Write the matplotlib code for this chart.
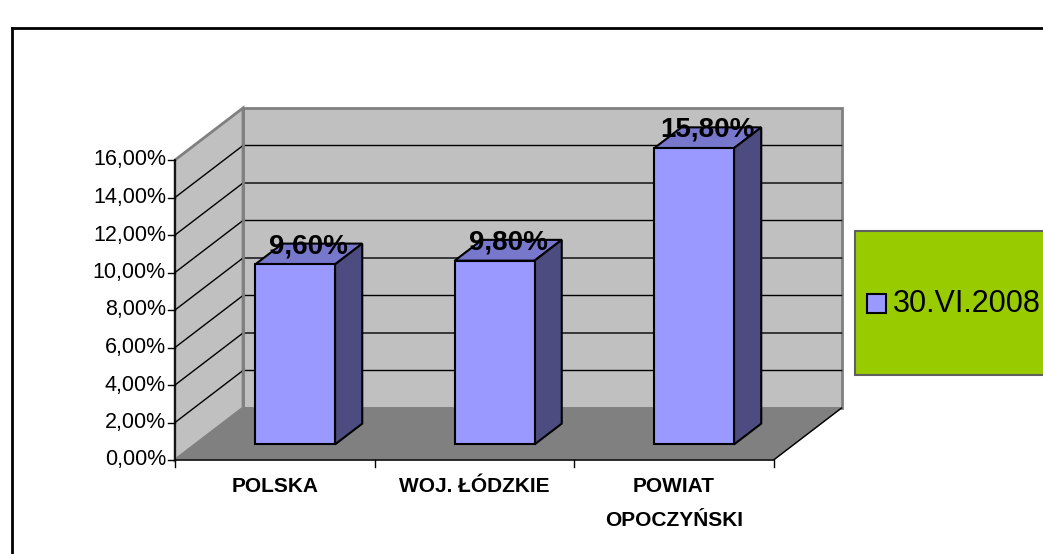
import matplotlib
matplotlib.use("Agg")
import matplotlib.pyplot as plt
from matplotlib.patches import Polygon, Rectangle

# ---------------- data ----------------
categories = ["POLSKA", "WOJ. ŁÓDZKIE", "POWIAT\nOPOCZYŃSKI"]
values = [9.6, 9.8, 15.8]
value_labels = ["9,60%", "9,80%", "15,80%"]
yticks = [0, 2, 4, 6, 8, 10, 12, 14, 16]
ytick_labels = ["0,00%", "2,00%", "4,00%", "6,00%", "8,00%",
                "10,00%", "12,00%", "14,00%", "16,00%"]
series_name = "30.VI.2008"

# ---------------- geometry (pixel mapping) ----------------
W, H = 1043, 554
X0, PX_CAT = 175.0, 199.5      # front y-axis pixel x, pixels per category
Y0, PX_PCT = 460.0, 18.75      # pixel y of 0 %, pixels per percent
DX = 68.0 / PX_CAT             # depth offset in category units
DY = 52.0 / PX_PCT             # depth offset in percent units
YMAX = 16.0
NCAT = len(categories)

plt.rcParams['font.family'] = ['Liberation Sans', 'DejaVu Sans']
fig = plt.figure(figsize=(W / 100, H / 100), dpi=100)
ax = fig.add_axes([0, 0, 1, 1])
ax.set_xlim(-X0 / PX_CAT, (W - X0) / PX_CAT)
ax.set_ylim((Y0 - H) / PX_PCT, Y0 / PX_PCT)
ax.axis("off")

def P(x, y, d=0.0):
    return (x + d * DX, y + d * DY)

wall_edge = "#808080"
# left wall
ax.add_patch(Polygon([P(0, 0), P(0, YMAX), P(0, YMAX, 1), P(0, 0, 1)],
                     closed=True, facecolor="#C0C0C0", edgecolor=wall_edge, lw=2, zorder=1))
# back wall
ax.add_patch(Polygon([P(0, 0, 1), P(0, YMAX, 1), P(NCAT, YMAX, 1), P(NCAT, 0, 1)],
                     closed=True, facecolor="#C0C0C0", edgecolor=wall_edge, lw=2, zorder=1))
# floor
ax.add_patch(Polygon([P(0, 0), P(NCAT, 0), P(NCAT, 0, 1), P(0, 0, 1)],
                     closed=True, facecolor="#808080", edgecolor=wall_edge, lw=1, zorder=1))
# floor front & right edges
ax.plot(*zip(P(0, 0), P(NCAT, 0), P(NCAT, 0, 1)), color="black", lw=1, zorder=2)

# gridlines (top one is the wall edge)
for t in yticks[1:-1]:
    xs, ys = zip(P(0, t), P(0, t, 1), P(NCAT, t, 1))
    ax.plot(xs, ys, color="black", lw=1, zorder=2)
# re-draw the back wall's left edge over the gridlines
ax.plot(*zip(P(0, 0, 1), P(0, YMAX, 1)), color=wall_edge, lw=2, zorder=2.5)

# y axis and ticks
ax.plot([0, 0], [0, YMAX], color="black", lw=1.2, zorder=3)
tick_len = 7 / PX_CAT
for t, lab in zip(yticks, ytick_labels):
    ax.plot([-tick_len, 0], [t, t], color="black", lw=1, zorder=3)
    ax.text(-tick_len - 2 / PX_CAT, t, lab, ha="right", va="center",
            fontsize=15.5, color="black")

# x ticks
for i in range(NCAT + 1):
    ax.plot([i, i], [0, -7 / PX_PCT], color="black", lw=1, zorder=3)

# category labels
for i, lab in enumerate(categories):
    lines = lab.split("\n")
    for j, ln in enumerate(lines):
        ax.text(i + 0.5, -(27 + 33 * j) / PX_PCT, ln, ha="center", va="center",
                fontsize=15, fontweight="bold", color="black")

# bars
bw, d0, d1 = 0.4, 0.3, 0.7
front_c, side_c, top_c = "#9999FF", "#4C4C80", "#7777CC"
for i, (v, lab) in enumerate(zip(values, value_labels)):
    x0 = i + 0.5 - bw / 2
    x1 = x0 + bw
    # top
    ax.add_patch(Polygon([P(x0, v, d0), P(x1, v, d0), P(x1, v, d1), P(x0, v, d1)],
                         closed=True, facecolor=top_c, edgecolor="black", lw=1.5, zorder=4))
    # side
    ax.add_patch(Polygon([P(x1, 0, d0), P(x1, v, d0), P(x1, v, d1), P(x1, 0, d1)],
                         closed=True, facecolor=side_c, edgecolor="black", lw=1.5, zorder=4))
    # front
    ax.add_patch(Polygon([P(x0, 0, d0), P(x1, 0, d0), P(x1, v, d0), P(x0, v, d0)],
                         closed=True, facecolor=front_c, edgecolor="black", lw=1.5, zorder=5))
    cx, cy = P(i + 0.5, v, 0.5)
    ax.text(cx, cy + 1 / PX_PCT, lab, ha="center", va="baseline", fontsize=20,
            fontweight="bold", color="black", zorder=6)

# legend box
fig.patches.append(Rectangle((855 / W, 1 - 375 / H), 200 / W, 144 / H,
                             transform=fig.transFigure, facecolor="#99CC00",
                             edgecolor="#606060", lw=1.5, zorder=1))
fig.patches.append(Rectangle((867 / W, 1 - 313 / H), 19 / W, 19 / H,
                             transform=fig.transFigure, facecolor=front_c,
                             edgecolor="black", lw=1.5, zorder=2))
fig.text(893 / W, 1 - 304 / H, series_name, ha="left", va="center",
         fontsize=22, color="black")

# outer chart frame
fig.add_artist(plt.Line2D([12 / W, 12 / W], [0, 1 - 28 / H], transform=fig.transFigure,
                          color="black", lw=2))
fig.add_artist(plt.Line2D([12 / W, 1], [1 - 28 / H, 1 - 28 / H], transform=fig.transFigure,
                          color="black", lw=2))

fig.savefig("out.png", dpi=100, facecolor="white")
